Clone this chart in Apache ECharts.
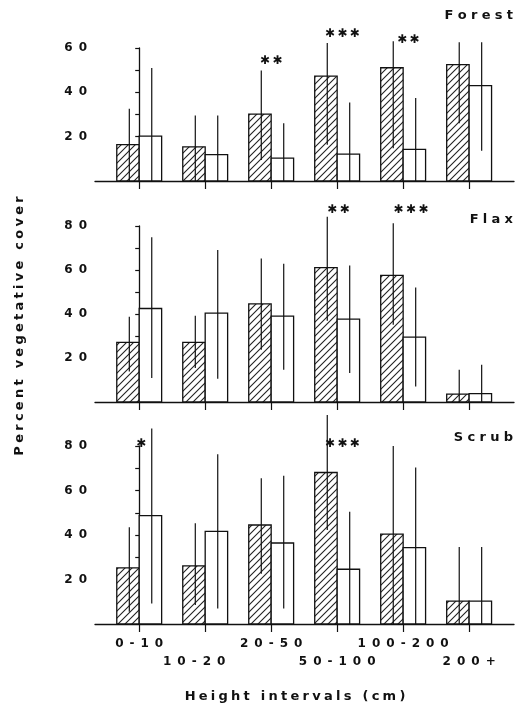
<!DOCTYPE html>
<html>
<head>
<meta charset="utf-8">
<script src="https://cdn.jsdelivr.net/npm/echarts@6/dist/echarts.min.js"></script>
<style>
  html, body { margin: 0; padding: 0; background: #fff; }
  #chart { width: 521px; height: 718px; }
</style>
</head>
<body>
<div id="chart"></div>
<script>
// ---------- data ----------
const categories = ['0-10', '10-20', '20-50', '50-100', '100-200', '200+'];
const panelNames = ['Forest', 'Flax', 'Scrub'];

// Forest
const forestHatchMean = [16.4, 15.4, 30.2, 47.3, 51.1, 52.5];
const forestHatchLow  = [0, 0, 9.5, 16.3, 14.8, 26.1];
const forestHatchHigh = [32.6, 29.5, 49.8, 62.3, 63.0, 62.6];
const forestOpenMean  = [20.2, 11.9, 10.3, 12.1, 14.3, 43.0];
const forestOpenLow   = [0, 0, 0, 0, 0, 13.7];
const forestOpenHigh  = [51.0, 29.5, 26.1, 35.4, 37.4, 62.6];
const forestStars = [[2, 54, 2], [3.08, 66.5, 3], [4.08, 63.5, 2]];

// Flax
const flaxHatchMean = [27.1, 27.1, 44.6, 61.1, 57.6, 3.6];
const flaxHatchLow  = [13.9, 15.4, 23.7, 36.9, 35.1, 0];
const flaxHatchHigh = [38.7, 39.2, 65.2, 84.2, 81.2, 14.7];
const flaxOpenMean  = [42.5, 40.4, 39.0, 37.7, 29.5, 3.8];
const flaxOpenLow   = [10.9, 10.6, 14.7, 13.2, 7.1, 0];
const flaxOpenHigh  = [74.9, 69.1, 62.8, 62.0, 52.0, 16.9];
const flaxStars = [[3.02, 87.3, 2], [4.12, 87.3, 3]];

// Scrub
const scrubHatchMean = [25.2, 26.1, 44.5, 68.1, 40.4, 10.3];
const scrubHatchLow  = [5.5, 8.5, 22.6, 42.3, 0, 0];
const scrubHatchHigh = [43.5, 45.3, 65.5, 93.9, 80.0, 34.6];
const scrubOpenMean  = [48.7, 41.6, 36.4, 24.6, 34.3, 10.3];
const scrubOpenLow   = [9.2, 7.0, 7.0, 0, 0, 0];
const scrubOpenHigh  = [87.9, 76.3, 66.6, 50.5, 70.3, 34.6];
const scrubStars = [[0.03, 80.9, 1], [3.08, 80.9, 3]];

const yMax = [60, 80, 80];
const yTicks = [[10, 20, 30, 40, 50, 60], [10, 20, 30, 40, 50, 60, 70, 80], [10, 20, 30, 40, 50, 60, 70, 80]];
const yLabels = [[20, 40, 60], [20, 40, 60, 80], [20, 40, 60, 80]];
const xTicks = [0, 1, 2, 3, 4, 5];
const xLabelsUpper = [0, 2, 4];
const xLabelsLower = [1, 3, 5];

// ---------- helpers ----------
const INK = '#111';
const FONT = 'DejaVu Sans';
function spaced(s, sep) { return String(s).split('').join(sep); }

// hatch pattern
const pc = document.createElement('canvas');
pc.width = 7; pc.height = 7;
const g = pc.getContext('2d');
g.fillStyle = '#fff'; g.fillRect(0, 0, 7, 7);
g.strokeStyle = '#222'; g.lineWidth = 1.1;
g.beginPath();
g.moveTo(-1, 8); g.lineTo(8, -1);
g.moveTo(-1, 1); g.lineTo(1, -1);
g.moveTo(6, 8); g.lineTo(8, 6);
g.stroke();
const hatch = { image: pc, repeat: 'repeat' };

const BW = 0.34;
function barRender(kind) {
  return function (params, api) {
    const x = api.value(0), mean = api.value(1), lo = api.value(2), hi = api.value(3);
    const x0 = kind === 'h' ? x - BW : x;
    const x1 = x0 + BW;
    const pTop = api.coord([x0, mean]);
    const pBot = api.coord([x1, 0]);
    const cx = api.coord([(x0 + x1) / 2 + 0.02, 0])[0];
    const yl = api.coord([0, lo])[1];
    const yh = api.coord([0, hi])[1];
    return {
      type: 'group',
      children: [
        { type: 'rect', shape: { x: pTop[0], y: pTop[1], width: pBot[0] - pTop[0], height: pBot[1] - pTop[1] },
          style: { fill: kind === 'h' ? hatch : '#fff', stroke: INK, lineWidth: 1.3 } },
        { type: 'line', shape: { x1: cx, y1: yh, x2: cx, y2: yl }, style: { stroke: INK, lineWidth: 1.2 } }
      ]
    };
  };
}
function starRender(params, api) {
  const p = api.coord([api.value(0), api.value(1)]);
  const n = api.value(2);
  return { type: 'text', x: p[0], y: p[1],
    style: { text: Array(n).fill('\u2731').join('\u2009'), font: 'bold 12px ' + FONT, fill: INK, align: 'center', verticalAlign: 'middle' } };
}
function pack(mean, lo, hi) { return mean.map((m, i) => [i, m, lo[i], hi[i]]); }

const panels = [
  [forestHatchMean, forestHatchLow, forestHatchHigh, forestOpenMean, forestOpenLow, forestOpenHigh, forestStars],
  [flaxHatchMean, flaxHatchLow, flaxHatchHigh, flaxOpenMean, flaxOpenLow, flaxOpenHigh, flaxStars],
  [scrubHatchMean, scrubHatchLow, scrubHatchHigh, scrubOpenMean, scrubOpenLow, scrubOpenHigh, scrubStars]
];

const grids = [
  { left: 95, right: 7, top: 48, height: 133 },
  { left: 95, right: 7, top: 226, height: 176 },
  { left: 95, right: 7, top: 446, height: 178 }
];

const labelFont = { color: INK, fontFamily: FONT, fontWeight: 'bold', fontSize: 12 };

const xAxes = grids.map((gr, k) => ({
  type: 'value', gridIndex: k, min: -0.67, max: 5.68,
  splitLine: { show: false },
  axisLine: { show: true, lineStyle: { color: INK, width: 1.3 } },
  axisTick: { show: true, customValues: xTicks, length: 8, inside: false, lineStyle: { color: INK, width: 1.2 } },
  axisLabel: k === 2 ? Object.assign({
    show: true, customValues: xLabelsUpper, margin: 14, interval: 0,
    showMinLabel: true, showMaxLabel: true, hideOverlap: false,
    formatter: function (v) { return spaced(categories[Math.round(v)], '\u2002'); }
  }, labelFont) : { show: false }
}));
// second (label-only) axis for the staggered lower row of category labels
xAxes.push({
  type: 'value', gridIndex: 2, min: -0.67, max: 5.68, position: 'bottom',
  splitLine: { show: false }, axisLine: { show: false }, axisTick: { show: false },
  axisLabel: Object.assign({
    show: true, customValues: xLabelsLower, margin: 32, interval: 0,
    showMinLabel: true, showMaxLabel: true, hideOverlap: false,
    formatter: function (v) {
      const i = Math.round(v);
      const t = spaced(categories[i], '\u2002');
      return i === 1 ? '{s|' + t + '}' : t;
    },
    rich: { s: Object.assign({ padding: [0, 22, 0, 0] }, labelFont) }
  }, labelFont)
});

const yAxes = grids.map((gr, k) => ({
  type: 'value', gridIndex: k, min: 0, max: yMax[k], interval: 20,
  splitLine: { show: false },
  axisLine: { show: true, lineStyle: { color: INK, width: 1.3 } },
  axisTick: { show: true, customValues: yTicks[k], length: 4, lineStyle: { color: INK, width: 1.2 } },
  axisLabel: Object.assign({ show: true, customValues: yLabels[k], margin: 8, showMinLabel: true, showMaxLabel: true,
    formatter: function (v) { return spaced(v, '\u2002'); } }, labelFont)
}));

const series = [];
panels.forEach((p, k) => {
  series.push({ type: 'custom', xAxisIndex: k, yAxisIndex: k, renderItem: barRender('h'), data: pack(p[0], p[1], p[2]), clip: false, silent: true });
  series.push({ type: 'custom', xAxisIndex: k, yAxisIndex: k, renderItem: barRender('o'), data: pack(p[3], p[4], p[5]), clip: false, silent: true });
  series.push({ type: 'custom', xAxisIndex: k, yAxisIndex: k, renderItem: starRender, data: p[6], clip: false, silent: true });
});

const titleY = [16, 220, 438];
const graphics = panelNames.map((n, k) => ({
  type: 'text', x: 513, y: titleY[k],
  style: { text: spaced(n, '\u2004'), font: 'bold 13px ' + FONT, fill: INK, align: 'right', verticalAlign: 'middle' }
}));
graphics.push({ type: 'text', x: 20, y: 326, rotation: Math.PI / 2,
  style: { text: spaced('Percent vegetative cover', '\u2005'), font: 'bold 13px ' + FONT, fill: INK, align: 'center', verticalAlign: 'middle' } });
graphics.push({ type: 'text', x: 295, y: 697,
  style: { text: spaced('Height intervals (cm)', '\u2005'), font: 'bold 13px ' + FONT, fill: INK, align: 'center', verticalAlign: 'middle' } });

const chart = echarts.init(document.getElementById('chart'), null, { renderer: 'canvas' });
chart.setOption({
  animation: false,
  backgroundColor: '#fff',
  grid: grids,
  xAxis: xAxes,
  yAxis: yAxes,
  series: series,
  graphic: graphics
});
</script>
</body>
</html>
